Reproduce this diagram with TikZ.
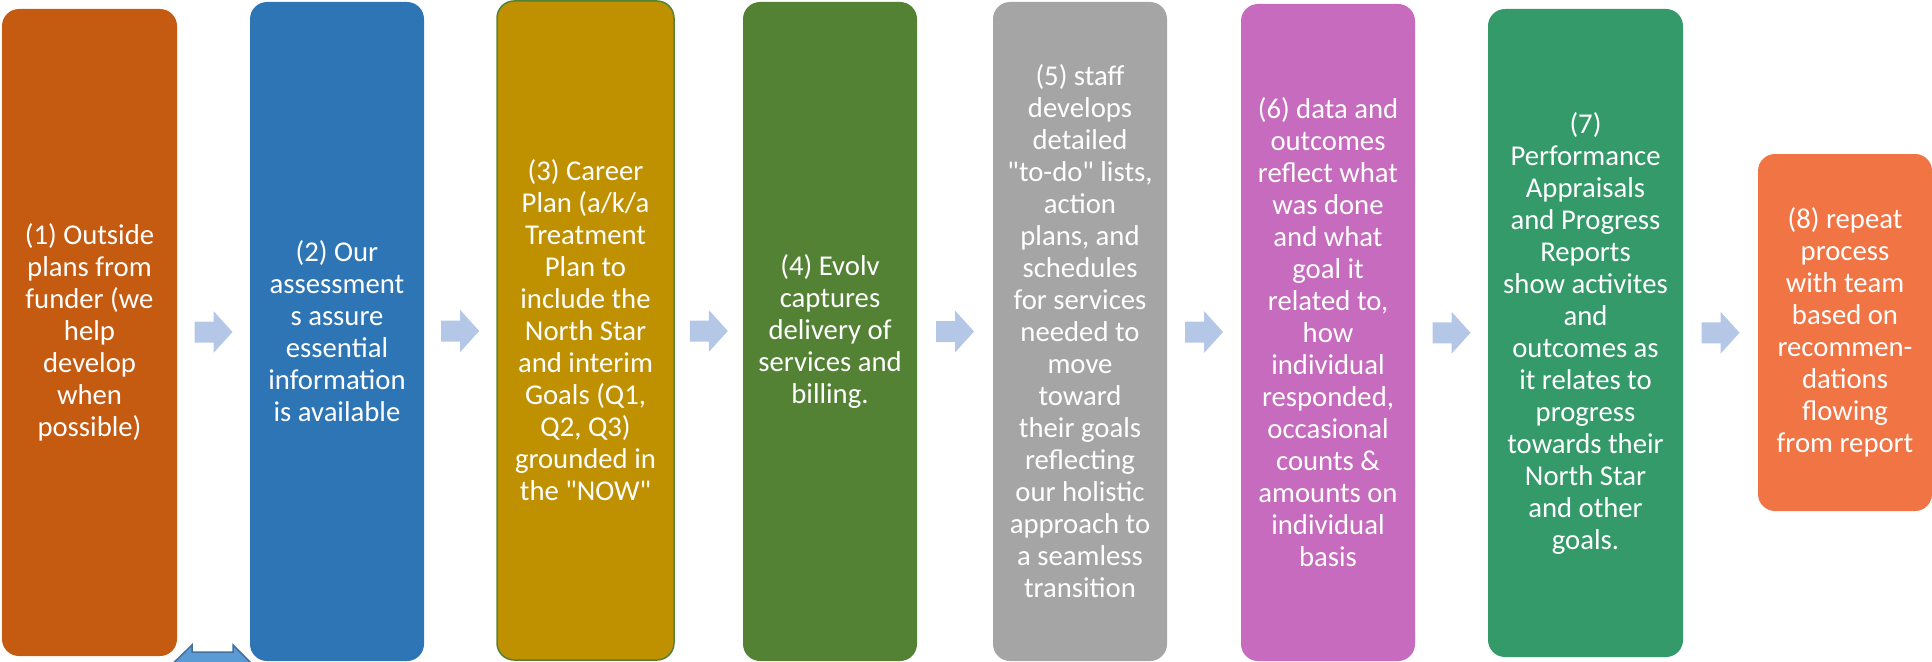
\documentclass[tikz,border=0pt]{standalone}
\usepackage{fontspec}
\setmainfont{Carlito}[Ligatures=TeXOff]
\usetikzlibrary{calc}
\definecolor{cone}{HTML}{C55A11}
\definecolor{ctwo}{HTML}{2E75B6}
\definecolor{cthree}{HTML}{BF9000}
\definecolor{cfour}{HTML}{548235}
\definecolor{cfive}{HTML}{A5A5A5}
\definecolor{csix}{HTML}{C66BBD}
\definecolor{cseven}{HTML}{349A6A}
\definecolor{ceight}{HTML}{F07444}
\definecolor{arrowc}{HTML}{B4C7E7}
\definecolor{dblfill}{HTML}{5B9BD5}
\definecolor{dbldraw}{HTML}{41719C}
\begin{document}
\begin{tikzpicture}[x=1pt,y=-1pt,
  box/.style={rounded corners=17pt, text=white, align=center, inner sep=0pt,
    font=\fontsize{28.7}{32}\selectfont},
  pics/flowarrow/.style={code={\fill[arrowc] (-19,-10.5) -- (0,-10.5) -- (0,-21) -- (19,0) -- (0,21) -- (0,10.5) -- (-19,10.5) -- cycle;}}]
\useasboundingbox (0,0) rectangle (1932,661);

\node[box, fill=cone, minimum width=175pt, minimum height=647pt] (b1) at (89.5,332.5)
  {(1) Outside\\plans from\\funder (we\\help\\develop\\when\\possible)};
\node[box, fill=ctwo, minimum width=174pt, minimum height=659pt] (b2) at (337,331.5)
  {(2) Our\\assessment\\s assure\\essential\\information\\is available};
\node[box, fill=cthree, draw=cfour, line width=1.5pt, minimum width=177pt, minimum height=659pt] (b3) at (585.5,330.5)
  {(3) Career\\Plan (a/k/a\\Treatment\\Plan to\\include the\\North Star\\and interim\\Goals (Q1,\\Q2, Q3)\\grounded in\\the "NOW"};
\node[box, fill=cfour, minimum width=174pt, minimum height=659pt] (b4) at (830,331.5)
  {(4) Evolv\\captures\\delivery of\\services and\\billing.};
\node[box, fill=cfive, minimum width=174pt, minimum height=659pt] (b5) at (1080,331.5)
  {(5) staff\\develops\\detailed\\"to-do" lists,\\action\\plans, and\\schedules\\for services\\needed to\\move\\toward\\their goals\\reflecting\\our holistic\\approach to\\a seamless\\transition};
\node[box, fill=csix, minimum width=174pt, minimum height=657pt] (b6) at (1328,332.5)
  {(6) data and\\outcomes\\reflect what\\was done\\and what\\goal it\\related to,\\how\\individual\\responded,\\occasional\\counts \&\\amounts on\\individual\\basis};
\node[box, fill=cseven, minimum width=195pt, minimum height=648pt] (b7) at (1585.5,333)
  {(7)\\Performance\\Appraisals\\and Progress\\Reports\\show activites\\and\\outcomes as\\it relates to\\progress\\towards their\\North Star\\and other\\goals.};
\node[box, fill=ceight, minimum width=174pt, minimum height=357pt] (b8) at (1845,332.5)
  {(8) repeat\\process\\with team\\based on\\recommen-\\dations\\flowing\\from report};

\foreach \a/\b in {b1/b2,b2/b3,b3/b4,b4/b5,b5/b6,b6/b7,b7/b8}
  \pic at ($(\a.east)!0.5!(\b.west)$) {flowarrow};

\begin{scope}
  \clip (0,0) rectangle (1932,661);
  \filldraw[fill=dblfill, draw=dbldraw, line width=1.5pt]
    (159,677) -- (192,645) -- (192,652) -- (233,652) -- (233,645) -- (265,677)
    -- (233,709) -- (233,702) -- (192,702) -- (192,709) -- cycle;
\end{scope}
\end{tikzpicture}
\end{document}
